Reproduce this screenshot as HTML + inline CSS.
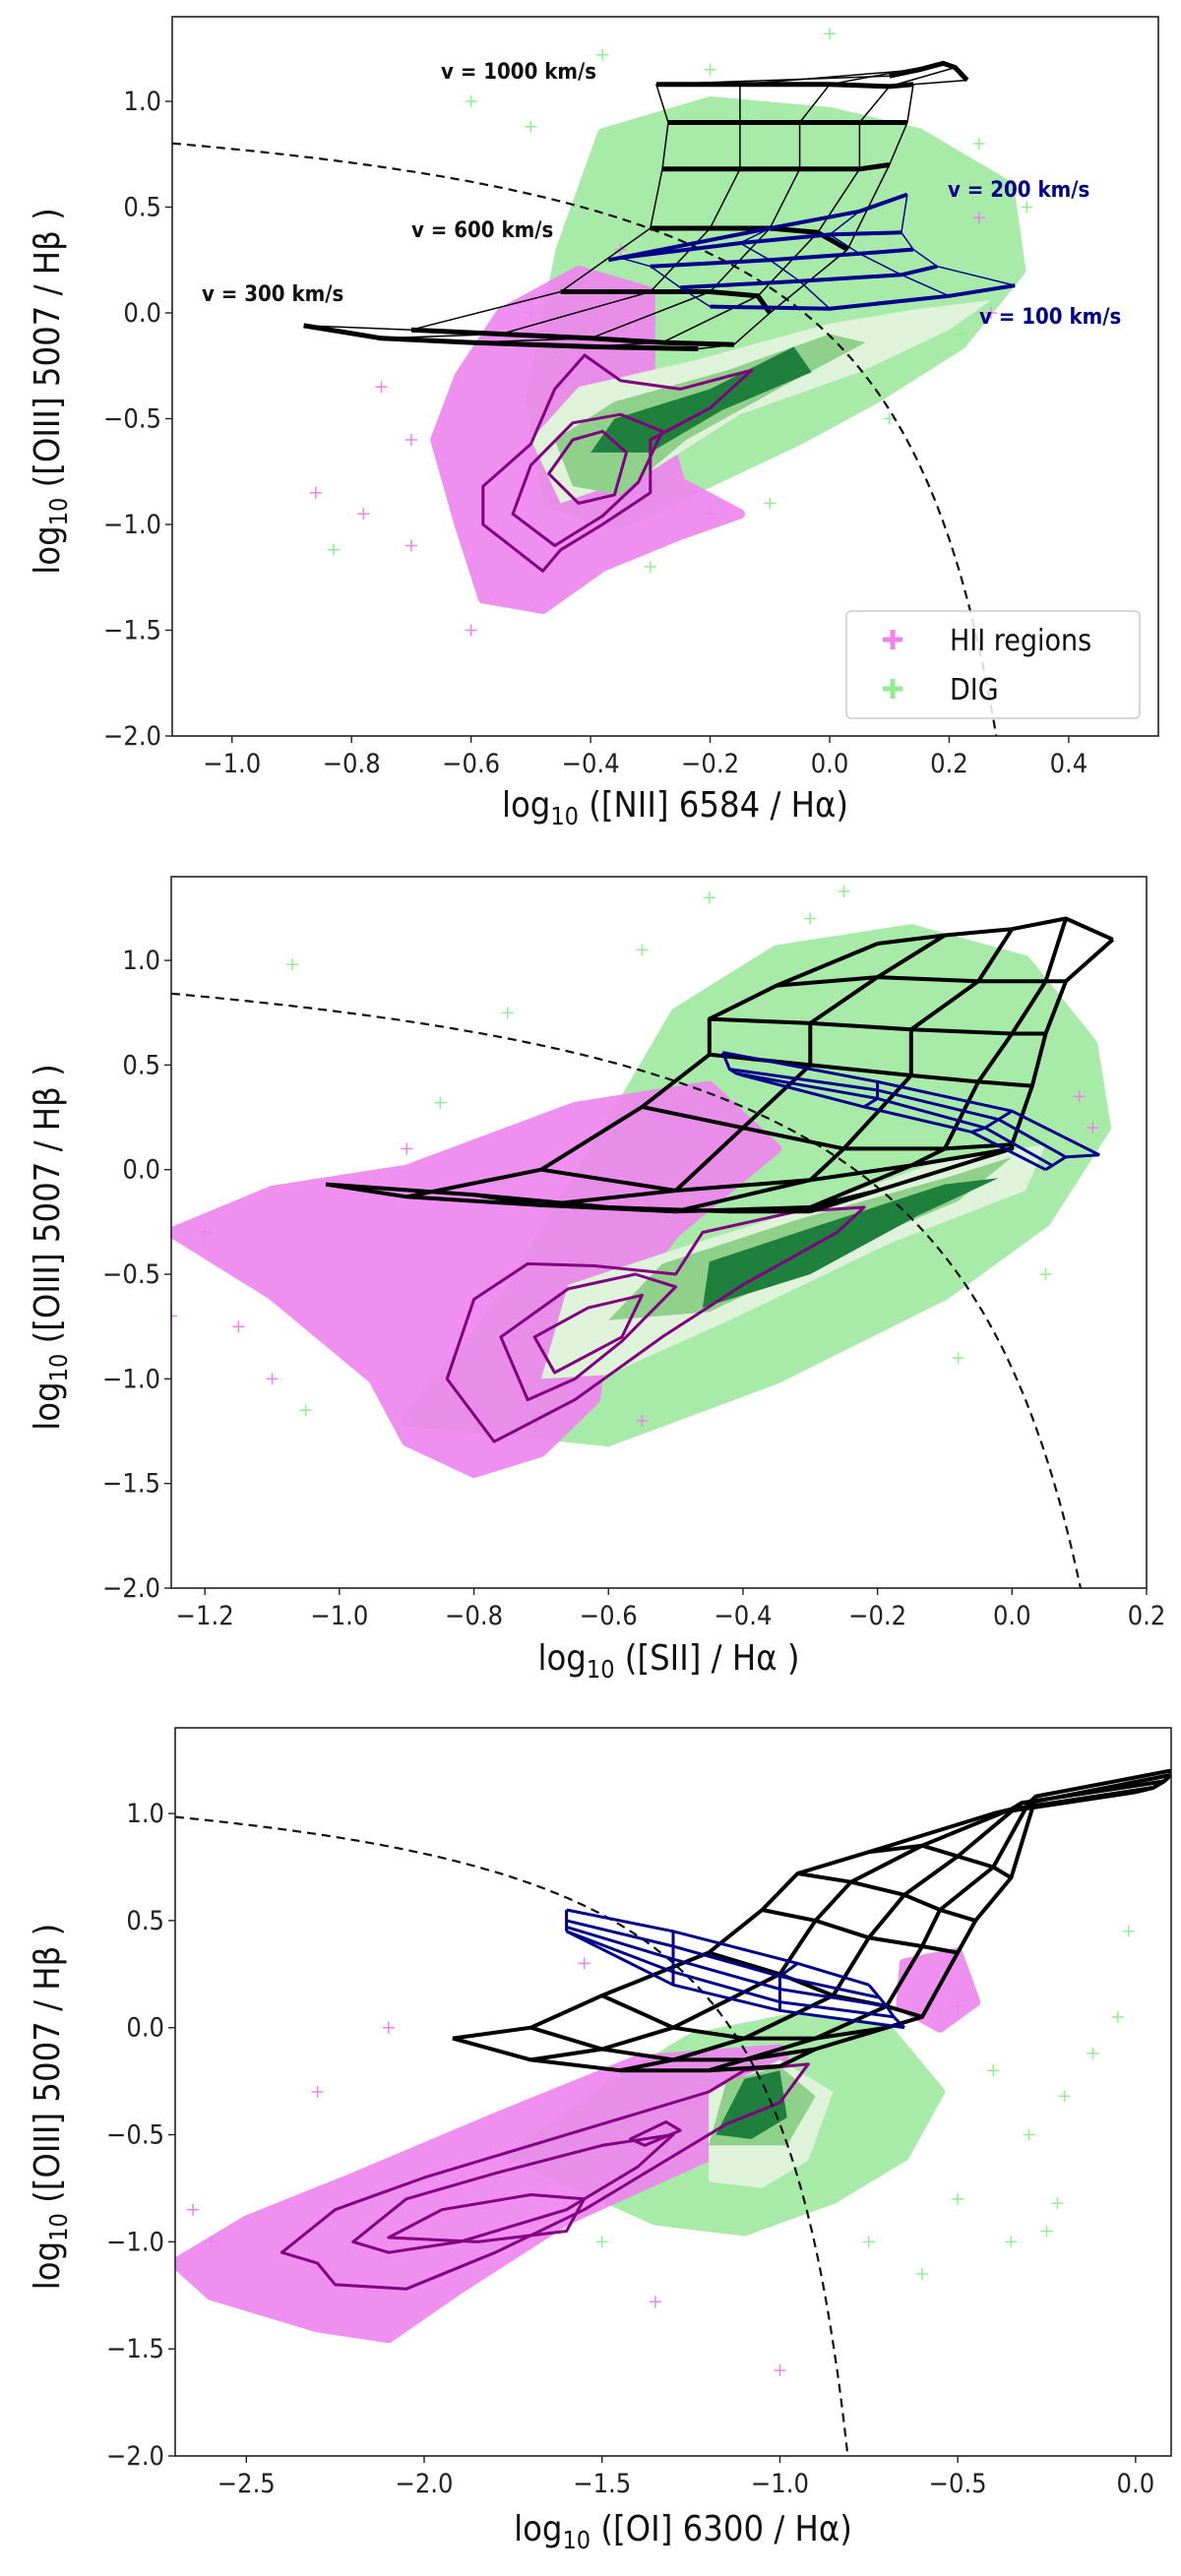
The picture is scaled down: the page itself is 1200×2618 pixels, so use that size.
<!DOCTYPE html>
<html><head><meta charset="utf-8">
<style>
html,body{margin:0;padding:0;background:#fff;}
svg{display:block;}
text{font-family:"DejaVu Sans Condensed","DejaVu Sans","Liberation Sans",sans-serif;}
</style></head>
<body>
<svg id="fig" width="1200" height="2618" viewBox="0 0 1200 2618" xmlns="http://www.w3.org/2000/svg"></svg>
<script>
// ---------- DATA ----------
// Panel 1: [NII]/Ha
const p1XTicks = [-1.0,-0.8,-0.6,-0.4,-0.2,0.0,0.2,0.4];
const p1XTickLabels = ["\u22121.0","\u22120.8","\u22120.6","\u22120.4","\u22120.2","0.0","0.2","0.4"];
const yTicks = [1.0,0.5,0.0,-0.5,-1.0,-1.5,-2.0];
const yTickLabels = ["1.0","0.5","0.0","\u22120.5","\u22121.0","\u22121.5","\u22122.0"];
const p1DigCloud = [[-0.45,0.3],[-0.38,0.85],[-0.2,1.0],[0.0,0.95],[0.15,0.85],[0.3,0.6],[0.32,0.2],[0.22,-0.15],[0.08,-0.4],[-0.05,-0.6],[-0.2,-0.8],[-0.35,-1.0],[-0.47,-0.9],[-0.5,-0.4]];
const p1HiiCloud = [[-0.62,-0.3],[-0.55,0.0],[-0.42,0.2],[-0.3,0.1],[-0.3,-0.3],[-0.25,-0.8],[-0.15,-0.95],[-0.25,-1.05],[-0.38,-1.2],[-0.48,-1.4],[-0.58,-1.35],[-0.62,-1.0],[-0.66,-0.6]];
const p1GreenLight = [[-0.45,-0.9],[-0.5,-0.6],[-0.42,-0.35],[-0.22,-0.22],[0.0,-0.05],[0.15,0.02],[0.27,0.06],[0.2,-0.08],[0.05,-0.28],[-0.15,-0.48],[-0.3,-0.75]];
const p1GreenMid = [[-0.43,-0.82],[-0.46,-0.6],[-0.36,-0.42],[-0.17,-0.27],[0.0,-0.1],[0.06,-0.14],[-0.08,-0.35],[-0.24,-0.6],[-0.35,-0.86]];
const p1GreenDark = [[-0.4,-0.66],[-0.36,-0.5],[-0.2,-0.36],[-0.06,-0.16],[-0.03,-0.28],[-0.18,-0.46],[-0.3,-0.66]];
const p1HiiContours = [
 [[-0.48,-1.22],[-0.58,-1.0],[-0.58,-0.82],[-0.5,-0.62],[-0.46,-0.36],[-0.41,-0.2],[-0.35,-0.32],[-0.25,-0.36],[-0.17,-0.3],[-0.13,-0.27],[-0.2,-0.45],[-0.3,-0.6],[-0.3,-0.85],[-0.38,-1.0],[-0.45,-1.12]],
 [[-0.46,-1.1],[-0.53,-0.95],[-0.5,-0.72],[-0.43,-0.52],[-0.35,-0.48],[-0.28,-0.56],[-0.32,-0.8],[-0.38,-0.96]],
 [[-0.42,-0.9],[-0.47,-0.76],[-0.43,-0.6],[-0.38,-0.56],[-0.34,-0.66],[-0.36,-0.86]]
];
const p1ShockX = [[-0.88,-0.75,-0.6,-0.4,-0.22],[-0.7,-0.55,-0.4,-0.28,-0.16],[-0.45,-0.3,-0.2,-0.12,-0.1],[-0.3,-0.2,-0.1,-0.02,0.03],[-0.28,-0.15,-0.05,0.05,0.1],[-0.27,-0.15,-0.05,0.05,0.13],[-0.29,-0.15,0.0,0.1,0.14],[0.1,0.15,0.19,0.21,0.23]];
const p1ShockY = [[-0.06,-0.12,-0.14,-0.16,-0.17],[-0.08,-0.1,-0.12,-0.14,-0.15],[0.1,0.1,0.1,0.08,0.0],[0.4,0.4,0.4,0.38,0.3],[0.68,0.68,0.68,0.68,0.7],[0.9,0.9,0.9,0.9,0.9],[1.08,1.08,1.08,1.07,1.08],[1.12,1.15,1.18,1.16,1.1]];
const p1PrecX = [[-0.2,0.0,0.2,0.31],[-0.25,-0.05,0.12,0.18],[-0.3,-0.1,0.05,0.14],[-0.35,-0.15,0.0,0.12],[-0.37,-0.1,0.05,0.13]];
const p1PrecY = [[0.03,0.02,0.08,0.13],[0.12,0.15,0.18,0.22],[0.22,0.25,0.28,0.3],[0.26,0.33,0.37,0.38],[0.25,0.4,0.48,0.56]];
const p1GreenOut = [[-0.6,1.0],[-0.5,0.88],[-0.38,1.22],[-0.2,1.15],[0.0,1.32],[0.25,0.8],[0.33,0.5],[-0.83,-1.12],[-0.1,-0.9],[-0.3,-1.2],[0.22,-0.1],[0.1,-0.5]];
const p1PinkOut = [[-0.86,-0.85],[-0.7,-1.1],[-0.7,-0.6],[-0.75,-0.35],[-0.6,-1.5],[-0.78,-0.95],[-0.2,-0.95],[-0.35,0.3],[0.25,0.45],[0.27,0.0],[-0.5,0.0]];

// Panel 2: [SII]/Ha
const p2XTicks = [-1.2,-1.0,-0.8,-0.6,-0.4,-0.2,0.0,0.2];
const p2XTickLabels = ["\u22121.2","\u22121.0","\u22120.8","\u22120.6","\u22120.4","\u22120.2","0.0","0.2"];
const p2DigCloud = [[-0.9,-1.2],[-0.75,-0.6],[-0.6,0.2],[-0.5,0.75],[-0.35,1.05],[-0.15,1.15],[0.02,1.0],[0.12,0.6],[0.14,0.2],[0.05,-0.25],[-0.1,-0.6],[-0.35,-1.0],[-0.6,-1.3]];
const p2HiiCloud = [[-1.25,-0.3],[-1.1,-0.1],[-0.9,0.0],[-0.65,0.3],[-0.45,0.4],[-0.35,0.1],[-0.5,-0.3],[-0.6,-0.7],[-0.62,-1.1],[-0.7,-1.35],[-0.8,-1.45],[-0.9,-1.3],[-0.95,-1.0],[-1.1,-0.6]];
const p2GreenLight = [[-0.7,-1.0],[-0.66,-0.55],[-0.5,-0.38],[-0.3,-0.18],[-0.1,0.05],[0.05,0.12],[0.02,-0.1],[-0.18,-0.35],[-0.42,-0.72],[-0.6,-0.98]];
const p2GreenMid = [[-0.6,-0.72],[-0.52,-0.45],[-0.32,-0.24],[-0.1,-0.04],[0.0,0.06],[-0.08,-0.15],[-0.28,-0.42],[-0.45,-0.68]];
const p2GreenDark = [[-0.46,-0.66],[-0.45,-0.44],[-0.3,-0.28],[-0.1,-0.07],[-0.02,-0.04],[-0.14,-0.22],[-0.3,-0.5]];
const p2HiiContours = [
 [[-0.77,-1.3],[-0.84,-1.0],[-0.8,-0.62],[-0.72,-0.45],[-0.62,-0.46],[-0.5,-0.5],[-0.46,-0.3],[-0.32,-0.2],[-0.22,-0.18],[-0.26,-0.3],[-0.4,-0.55],[-0.52,-0.8],[-0.65,-1.1]],
 [[-0.72,-1.1],[-0.76,-0.8],[-0.66,-0.57],[-0.56,-0.5],[-0.5,-0.56],[-0.58,-0.82],[-0.65,-1.0]],
 [[-0.68,-0.97],[-0.71,-0.8],[-0.63,-0.66],[-0.55,-0.6],[-0.58,-0.8]]
];
const p2ShockX = [[-1.02,-0.8,-0.6,-0.42,-0.3],[-0.9,-0.7,-0.5,-0.3,-0.2],[-0.7,-0.5,-0.3,-0.15,0.0],[-0.55,-0.4,-0.25,-0.1,0.0],[-0.45,-0.3,-0.15,-0.05,0.03],[-0.45,-0.3,-0.15,0.0,0.05],[-0.35,-0.2,-0.05,0.05,0.08],[-0.2,-0.1,0.0,0.08,0.15]];
const p2ShockY = [[-0.07,-0.12,-0.18,-0.2,-0.2],[-0.13,-0.17,-0.2,-0.18,-0.1],[0.0,-0.1,-0.05,0.02,0.1],[0.3,0.2,0.1,0.1,0.12],[0.55,0.5,0.45,0.42,0.4],[0.72,0.7,0.67,0.65,0.65],[0.88,0.92,0.9,0.9,0.9],[1.08,1.12,1.15,1.2,1.1]];
const p2PrecX = [[-0.43,-0.2,0.0,0.13],[-0.42,-0.2,-0.02,0.08],[-0.41,-0.2,-0.04,0.06],[-0.4,-0.22,-0.06,0.05]];
const p2PrecY = [[0.56,0.42,0.28,0.07],[0.48,0.38,0.24,0.06],[0.46,0.34,0.2,0.02],[0.45,0.3,0.18,0.0]];
const p2GreenOut = [[-1.07,0.98],[-0.75,0.75],[-0.85,0.32],[-1.05,-1.15],[-0.25,1.33],[-0.45,1.3],[-0.08,-0.9],[0.05,-0.5],[-0.3,1.2],[-0.55,1.05]];
const p2PinkOut = [[-1.25,-0.7],[-1.15,-0.75],[-1.2,-0.3],[-1.1,-1.0],[-0.9,0.1],[0.1,0.35],[0.12,0.2],[-0.55,-1.2]];

// Panel 3: [OI]/Ha
const p3XTicks = [-2.5,-2.0,-1.5,-1.0,-0.5,0.0];
const p3XTickLabels = ["\u22122.5","\u22122.0","\u22121.5","\u22121.0","\u22120.5","0.0"];
const p3DigCloud = [[-1.75,-0.6],[-1.5,-0.3],[-1.25,-0.05],[-0.95,0.05],[-0.7,0.0],[-0.55,-0.3],[-0.65,-0.6],[-0.85,-0.8],[-1.1,-0.95],[-1.35,-0.9]];
const p3HiiCloud = [[-2.7,-1.1],[-2.5,-0.9],[-2.2,-0.7],[-1.8,-0.42],[-1.4,-0.15],[-1.0,-0.1],[-0.95,-0.3],[-1.2,-0.6],[-1.6,-0.9],[-1.9,-1.22],[-2.1,-1.45],[-2.3,-1.4],[-2.6,-1.25]];
const p3HiiPatch = [[-0.65,0.3],[-0.5,0.35],[-0.45,0.12],[-0.55,0.0],[-0.66,0.1]];
const p3GreenLight = [[-1.2,-0.72],[-1.2,-0.3],[-1.0,-0.15],[-0.85,-0.3],[-0.92,-0.62],[-1.05,-0.75]];
const p3GreenMid = [[-1.2,-0.55],[-1.15,-0.25],[-1.0,-0.18],[-0.9,-0.32],[-0.98,-0.55]];
const p3GreenDark = [[-1.18,-0.5],[-1.1,-0.24],[-1.0,-0.2],[-0.98,-0.42],[-1.08,-0.52]];
const p3HiiContours = [
 [[-2.4,-1.05],[-2.25,-0.85],[-2.0,-0.7],[-1.7,-0.55],[-1.4,-0.4],[-1.2,-0.3],[-1.1,-0.2],[-0.92,-0.17],[-1.0,-0.35],[-1.15,-0.45],[-1.35,-0.65],[-1.55,-0.85],[-1.8,-1.05],[-2.05,-1.22],[-2.25,-1.2],[-2.3,-1.1]],
 [[-2.2,-1.0],[-2.05,-0.8],[-1.8,-0.68],[-1.5,-0.55],[-1.3,-0.5],[-1.4,-0.65],[-1.6,-0.85],[-1.9,-1.0],[-2.1,-1.05]],
 [[-2.1,-0.98],[-1.95,-0.85],[-1.7,-0.78],[-1.55,-0.8],[-1.6,-0.95],[-1.85,-1.0]],
 [[-1.42,-0.52],[-1.32,-0.44],[-1.28,-0.48],[-1.38,-0.55]]
];
const p3ShockX = [[-1.92,-1.7,-1.45,-1.2,-1.0],[-1.7,-1.5,-1.3,-1.1,-0.9],[-1.5,-1.3,-1.1,-0.9,-0.7],[-1.2,-1.0,-0.85,-0.7,-0.6],[-1.05,-0.9,-0.75,-0.6,-0.5],[-0.95,-0.8,-0.65,-0.55,-0.45],[-0.75,-0.6,-0.5,-0.4,-0.35],[-0.4,-0.35,-0.32,-0.3,-0.28],[0.0,0.05,0.08,0.1,0.1]];
const p3ShockY = [[-0.05,-0.15,-0.2,-0.2,-0.18],[0.0,-0.1,-0.15,-0.15,-0.1],[0.15,0.0,-0.05,-0.05,0.0],[0.35,0.25,0.15,0.1,0.05],[0.55,0.5,0.42,0.38,0.35],[0.72,0.68,0.62,0.55,0.5],[0.82,0.85,0.8,0.75,0.7],[1.0,1.02,1.05,1.05,1.08],[1.1,1.12,1.15,1.18,1.2]];
const p3PrecX = [[-1.6,-1.3,-0.95,-0.75],[-1.6,-1.3,-1.0,-0.72],[-1.6,-1.3,-1.0,-0.7],[-1.6,-1.3,-1.0,-0.68],[-1.6,-1.3,-1.0,-0.65]];
const p3PrecY = [[0.55,0.45,0.3,0.2],[0.5,0.38,0.24,0.14],[0.47,0.32,0.18,0.1],[0.45,0.26,0.12,0.05],[0.45,0.2,0.08,0.0]];
const p3GreenOut = [[-0.02,0.45],[-0.05,0.05],[-0.12,-0.12],[-0.2,-0.32],[-0.22,-0.82],[-0.25,-0.95],[-0.35,-1.0],[-0.4,-0.2],[-0.3,-0.5],[-0.6,-1.15],[-0.75,-1.0],[-0.5,-0.8],[-1.5,-1.0],[-1.8,-0.7]];
const p3PinkOut = [[-1.0,-1.6],[-1.35,-1.28],[-2.1,0.0],[-2.6,-1.0],[-2.3,-0.3],[-1.55,0.3],[-0.5,0.1],[-2.65,-0.85]];

// ---------- LAYOUT ----------
const svg = document.getElementById('fig');
const NS = 'http://www.w3.org/2000/svg';
const panels = [
 {id:'nii', L:175,R:1177,T:17,B:748, xmin:-1.1,xmax:0.55, ymin:-2,ymax:1.4,
  xt:p1XTicks, xl:p1XTickLabels, dig:p1DigCloud, hii:[p1HiiCloud], gl:p1GreenLight, gm:p1GreenMid, gd:p1GreenDark, hc:p1HiiContours,
  sx:p1ShockX, sy:p1ShockY, px:p1PrecX, py:p1PrecY, go:p1GreenOut, po:p1PinkOut, kc:[0.61,0.47,1.19], thinCols:true,
  xlabel:['log','10',' ([NII] 6584 / H\u03b1)'], xlabY:830},
 {id:'sii', L:174,R:1165,T:891,B:1614, xmin:-1.25,xmax:0.2, ymin:-2,ymax:1.4,
  xt:p2XTicks, xl:p2XTickLabels, dig:p2DigCloud, hii:[p2HiiCloud], gl:p2GreenLight, gm:p2GreenMid, gd:p2GreenDark, hc:p2HiiContours,
  sx:p2ShockX, sy:p2ShockY, px:p2PrecX, py:p2PrecY, go:p2GreenOut, po:p2PinkOut, kc:[0.72,0.32,1.30], thinCols:false,
  xlabel:['log','10',' ([SII] / H\u03b1 )'], xlabY:1697},
 {id:'oi', L:178,R:1190,T:1756,B:2496, xmin:-2.7,xmax:0.1, ymin:-2,ymax:1.4,
  xt:p3XTicks, xl:p3XTickLabels, dig:p3DigCloud, hii:[p3HiiCloud,p3HiiPatch], gl:p3GreenLight, gm:p3GreenMid, gd:p3GreenDark, hc:p3HiiContours,
  sx:p3ShockX, sy:p3ShockY, px:p3PrecX, py:p3PrecY, go:p3GreenOut, po:p3PinkOut, kc:[0.73,-0.59,1.33], thinCols:false,
  xlabel:['log','10',' ([OI] 6300 / H\u03b1)'], xlabY:2582}
];

function mk(tag, attrs, parent){
  const e = document.createElementNS(NS, tag);
  for (const k in attrs) e.setAttribute(k, attrs[k]);
  parent.appendChild(e);
  return e;
}

panels.forEach(function(p){
  const sx = v => p.L + (v - p.xmin) / (p.xmax - p.xmin) * (p.R - p.L);
  const sy = v => p.B - (v - p.ymin) / (p.ymax - p.ymin) * (p.B - p.T);
  const pts = arr => arr.map(d => sx(d[0]).toFixed(1) + ',' + sy(d[1]).toFixed(1)).join(' ');

  const g = mk('g', {}, svg);
  
  
  const clipId = 'clip-' + p.id;
  const cp = mk('clipPath', {id: clipId}, g);
  mk('rect', {x:p.L, y:p.T, width:p.R-p.L, height:p.B-p.T}, cp);
  const plot = mk('g', {'clip-path':'url(#' + clipId + ')'}, g);
  
  

  const dig = mk('polygon', {points: pts(p.dig), fill:'#93e693', stroke:'#93e693', 'stroke-width':10, 'stroke-linejoin':'round', opacity:0.8}, plot);
  
  
  p.go.forEach(function(d){
    const c = mk('path', {d:'M'+(sx(d[0])-6)+' '+sy(d[1])+'h12M'+sx(d[0])+' '+(sy(d[1])-6)+'v12', stroke:'#90ee90', 'stroke-width':1.5}, plot);
    
    
  });
  p.hii.forEach(function(poly){
    const h = mk('polygon', {points: pts(poly), fill:'#ee86ee', stroke:'#ee86ee', 'stroke-width':10, 'stroke-linejoin':'round', opacity:0.92}, plot);
    
    
  });
  p.po.forEach(function(d){
    const c = mk('path', {d:'M'+(sx(d[0])-6)+' '+sy(d[1])+'h12M'+sx(d[0])+' '+(sy(d[1])-6)+'v12', stroke:'#ee82ee', 'stroke-width':1.5}, plot);
    
    
  });
  const gl = mk('polygon', {points: pts(p.gl), fill:'#dff2da', stroke:'none'}, plot);
  
  
  const gm = mk('polygon', {points: pts(p.gm), fill:'#8fd08a', stroke:'none'}, plot);
  
  
  const gd = mk('polygon', {points: pts(p.gd), fill:'#1f7f3c', stroke:'none'}, plot);
  
  
  p.hc.forEach(function(c){
    const e = mk('polygon', {points: pts(c), fill:'none', stroke:'#800080', 'stroke-width':3, 'stroke-linejoin':'round'}, plot);
    
    
  });
  let kd = [];
  const k = p.kc;
  for (let x = p.xmin; x < k[1] - 0.001; x += 0.005){
    const y = k[0] / (x - k[1]) + k[2];
    if (y < p.ymin - 0.2) break;
    kd.push([x, y]);
  }
  const kl = mk('polyline', {points: pts(kd), fill:'none', stroke:'#111', 'stroke-width':2.2, 'stroke-dasharray':'9,6'}, plot);
  
  
  for (let i = 0; i < p.sx.length; i++){
    const row = p.sx[i].map((x, j) => [x, p.sy[i][j]]);
    const r = mk('polyline', {points: pts(row), fill:'none', stroke:'#000', 'stroke-width': p.thinCols ? 5 : 4, 'stroke-linejoin':'round'}, plot);
    
    
  }
  for (let j = 0; j < p.sx[0].length; j++){
    const col = p.sx.map((r, i) => [r[j], p.sy[i][j]]);
    const c = mk('polyline', {points: pts(col), fill:'none', stroke:'#000', 'stroke-width': p.thinCols ? 1.5 : 4, 'stroke-linejoin':'round'}, plot);
    
    
  }
  for (let i = 0; i < p.px.length; i++){
    const row = p.px[i].map((x, j) => [x, p.py[i][j]]);
    const r = mk('polyline', {points: pts(row), fill:'none', stroke:'#00008b', 'stroke-width': p.thinCols ? 4 : 3, 'stroke-linejoin':'round'}, plot);
    
    
  }
  for (let j = 0; j < p.px[0].length; j++){
    const col = p.px.map((r, i) => [r[j], p.py[i][j]]);
    const c = mk('polyline', {points: pts(col), fill:'none', stroke:'#00008b', 'stroke-width': p.thinCols ? 1.5 : 3}, plot);
    
    
  }

  const fr = mk('rect', {x:p.L, y:p.T, width:p.R-p.L, height:p.B-p.T, fill:'none', stroke:'#222', 'stroke-width':1.6}, g);
  
  
  p.xt.forEach(function(v, i){
    const X = sx(v);
    const t = mk('line', {x1:X, x2:X, y1:p.B, y2:p.B+7, stroke:'#222', 'stroke-width':1.4}, g);
    
    
    const tx = mk('text', {x:X, y:p.B+37, 'text-anchor':'middle', 'font-size':27, fill:'#222'}, g);
    tx.textContent = p.xl[i];
    
    
  });
  yTicks.forEach(function(v, i){
    const Y = sy(v);
    const t = mk('line', {x1:p.L-7, x2:p.L, y1:Y, y2:Y, stroke:'#222', 'stroke-width':1.4}, g);
    
    
    const tx = mk('text', {x:p.L-11, y:Y+9, 'text-anchor':'end', 'font-size':27, fill:'#222'}, g);
    tx.textContent = yTickLabels[i];
    
    
  });
  const xl = mk('text', {x:(p.L+p.R)/2+10, y:p.xlabY, 'text-anchor':'middle', 'font-size':36, fill:'#111'}, g);
  
  
  const a = mk('tspan', {}, xl); a.textContent = p.xlabel[0];
  const b = mk('tspan', {dy:8, 'font-size':25}, xl); b.textContent = p.xlabel[1];
  const c = mk('tspan', {dy:-8}, xl); c.textContent = p.xlabel[2];
  const cy = (p.T + p.B) / 2 + 15;
  const yl = mk('text', {x:0, y:0, transform:'translate(60,'+cy+') rotate(-90)', 'text-anchor':'middle', 'font-size':36, fill:'#111'}, g);
  
  
  const ya = mk('tspan', {}, yl); ya.textContent = 'log';
  const yb = mk('tspan', {dy:8, 'font-size':25}, yl); yb.textContent = '10';
  const yc = mk('tspan', {dy:-8}, yl); yc.textContent = ' ([OIII] 5007 / H\u03b2 )';
});

const ann = [
 ['v = 1000 km/s', 448, 80, '#111'],
 ['v = 600 km/s', 418, 241, '#111'],
 ['v = 300 km/s', 205, 306, '#111'],
 ['v = 200 km/s', 963, 200, '#00008b'],
 ['v = 100 km/s', 995, 329, '#00008b']
];
ann.forEach(function(a){
  const t = mk('text', {x:a[1], y:a[2], 'font-size':22, 'font-weight':'bold', fill:a[3]}, svg);
  t.textContent = a[0];
  
  
});

const lg = mk('g', {}, svg);


const lbox = mk('rect', {x:860, y:621, width:298, height:109, rx:5, fill:'#fff', 'fill-opacity':0.85, stroke:'#ccc', 'stroke-width':1.5}, lg);


const legItems = [['HII regions', '#ee82ee', 650], ['DIG', '#90ee90', 700]];
legItems.forEach(function(it){
  const m = mk('path', {d:'M897 '+it[2]+'h20M907 '+(it[2]-10)+'v20', stroke:it[1], 'stroke-width':5}, lg);
  
  
  const t = mk('text', {x:965, y:it[2]+11, 'font-size':30, fill:'#111'}, lg);
  t.textContent = it[0];
  
  
});
</script>
</body></html>
